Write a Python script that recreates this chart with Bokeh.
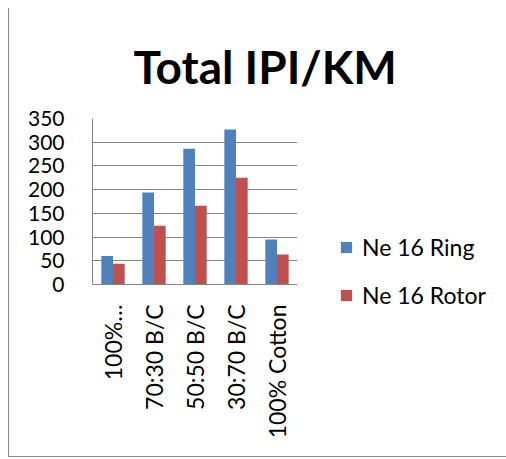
from bokeh.plotting import figure
from bokeh.models import FactorRange, Range1d, Legend, LegendItem, Title, ColumnDataSource, SingleIntervalTicker
from bokeh.transform import dodge
from bokeh.embed import file_html
from bokeh.resources import INLINE
import math

categories = ["100%…", "70:30 B/C", "50:50 B/C", "30:70 B/C", "100% Cotton"]
ring = [60, 194, 286, 327, 95]
rotor = [44, 124, 166, 225, 63]
series_names = ["Ne 16 Ring", "Ne 16 Rotor"]

FONT = "Lato"
src = ColumnDataSource(dict(cat=categories, ring=ring, rotor=rotor))

p = figure(frame_width=205, frame_height=166, output_backend="svg", toolbar_location=None,
           x_range=FactorRange(*categories), y_range=Range1d(0, 350),
           min_border_left=83, min_border_right=202, min_border_top=110, min_border_bottom=172)
p.styles = {"margin-left": "8px", "margin-top": "8px",
            "border-left": "1px solid #8a8a8a", "border-bottom": "1px solid #8a8a8a"}
p.outline_line_color = None
p.background_fill_color = "white"
p.border_fill_color = "white"

r1 = p.vbar(x=dodge("cat", -0.142, range=p.x_range), top="ring", width=0.285, source=src,
            fill_color="#4F81BD", line_color=None)
r2 = p.vbar(x=dodge("cat", 0.142, range=p.x_range), top="rotor", width=0.285, source=src,
            fill_color="#C0504D", line_color=None)

p.xgrid.grid_line_color = None
p.ygrid.grid_line_color = "#868686"
p.ygrid.grid_line_width = 1
p.yaxis.ticker = SingleIntervalTicker(interval=50)

for ax in (p.xaxis[0], p.yaxis[0]):
    ax.axis_line_color = "#868686"
    ax.major_tick_line_color = None
    ax.minor_tick_line_color = None
    ax.major_label_text_font = FONT
    ax.major_label_text_color = "black"
p.yaxis.major_label_text_font_size = "21px"
p.xaxis.major_label_text_font_size = "23px"
p.yaxis.major_label_standoff = 22
p.xaxis.major_label_standoff = 14
p.xaxis.major_label_orientation = math.pi / 2

t = Title(text="Total IPI/KM", align="left", offset=41, text_font=FONT, text_font_size="46px",
          text_font_style="bold", text_color="black", standoff=50)
p.add_layout(t, "above")

legend = Legend(items=[LegendItem(label=series_names[0], renderers=[r1]),
                       LegendItem(label=series_names[1], renderers=[r2])],
                location=(42, -25), orientation="vertical",
                glyph_width=14, glyph_height=14, label_height=24, spacing=20,
                padding=0, margin=0, border_line_color=None, background_fill_alpha=0,
                label_text_font=FONT, label_text_font_size="23px", label_text_color="black",
                label_standoff=9)
p.add_layout(legend, "right")

open("out.html", "w").write(file_html(p, INLINE))
